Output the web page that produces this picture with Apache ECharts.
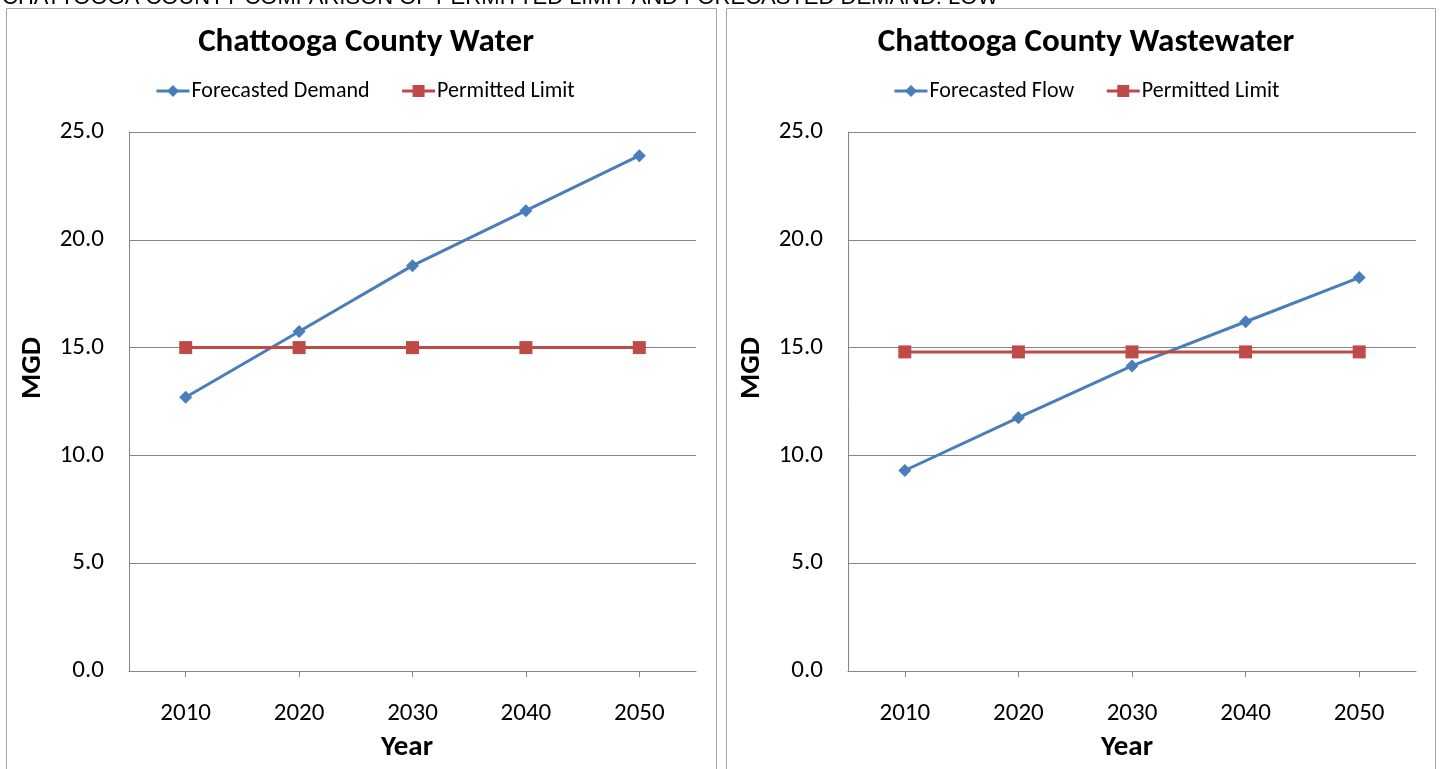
<!DOCTYPE html>
<html>
<head>
<meta charset="utf-8">
<script src="https://cdn.jsdelivr.net/npm/echarts@6/dist/echarts.min.js"></script>
<style>
  html, body { margin: 0; padding: 0; background: #fff; }
  #chart { width: 1442px; height: 769px; }
</style>
</head>
<body>
<div id="chart"></div>
<script>
const years = ["2010", "2020", "2030", "2040", "2050"];
const waterDemand = [12.7, 15.75, 18.8, 21.35, 23.9];
const waterLimit = [15.0, 15.0, 15.0, 15.0, 15.0];
const wastewaterFlow = [9.3, 11.75, 14.15, 16.2, 18.25];
const wastewaterLimit = [14.8, 14.8, 14.8, 14.8, 14.8];
const yTicks = [0, 5, 10, 15, 20, 25];

const FONT = "Carlito, Lato, 'Liberation Sans Narrow', sans-serif";
const BLUE = "#4A7EBB";
const RED = "#BE4B48";
const GRID = "#868686";

const chartDom = document.getElementById("chart");
const chart = echarts.init(chartDom, null, { renderer: "canvas" });

const xAxisFor = (idx) => ({
  type: "category",
  gridIndex: idx,
  data: years,
  boundaryGap: true,
  axisLine: { lineStyle: { color: GRID, width: 1 } },
  axisTick: { show: true, alignWithLabel: true, length: 6, lineStyle: { color: GRID } },
  axisLabel: { color: "#000", fontSize: 25, fontFamily: FONT, margin: 30 }
});

const yAxisFor = (idx) => ({
  type: "value",
  gridIndex: idx,
  min: yTicks[0],
  max: yTicks[yTicks.length - 1],
  interval: 5,
  axisLine: { show: true, lineStyle: { color: GRID, width: 1 } },
  axisTick: { show: false },
  splitLine: { lineStyle: { color: GRID, width: 1 } },
  axisLabel: {
    color: "#000", fontSize: 25, fontFamily: FONT, margin: 25,
    formatter: (v) => v.toFixed(1)
  }
});

const lineSeries = (name, data, idx, color, symbol, size) => ({
  name: name,
  type: "line",
  xAxisIndex: idx,
  yAxisIndex: idx,
  data: data,
  symbol: symbol,
  symbolSize: size,
  showSymbol: true,
  lineStyle: { color: color, width: 3 },
  itemStyle: { color: color },
  emphasis: { disabled: true },
  animation: false
});

const legendFor = (names, left) => ({
  data: names,
  left: left,
  top: 75,
  itemWidth: 33,
  itemHeight: 15,
  itemGap: 31,
  lineStyle: { width: 3 },
  textStyle: { color: "#000", fontSize: 22, fontFamily: FONT, padding: [0, 0, 0, -3] }
});

const option = {
  backgroundColor: "#fff",
  animation: false,
  title: [
    { text: "Chattooga County Water", left: 361, top: 21, textAlign: "center",
      textStyle: { fontSize: 33, fontWeight: "bold", fontFamily: FONT, color: "#000" } },
    { text: "Chattooga County Wastewater", left: 1081, top: 21, textAlign: "center",
      textStyle: { fontSize: 33, fontWeight: "bold", fontFamily: FONT, color: "#000" } }
  ],
  legend: [
    legendFor(["Forecasted Demand", "Permitted Limit"], 150),
    legendFor(["Forecasted Flow", "Permitted Limit"], 888)
  ],
  grid: [
    { left: 129, top: 132, width: 567, height: 539 },
    { left: 848, top: 132, width: 568, height: 539 }
  ],
  xAxis: [xAxisFor(0), xAxisFor(1)],
  yAxis: [yAxisFor(0), yAxisFor(1)],
  series: [
    lineSeries("Forecasted Demand", waterDemand, 0, BLUE, "diamond", 13),
    lineSeries("Permitted Limit", waterLimit, 0, RED, "rect", 13),
    lineSeries("Forecasted Flow", wastewaterFlow, 1, BLUE, "diamond", 13),
    lineSeries("Permitted Limit", wastewaterLimit, 1, RED, "rect", 13)
  ],
  graphic: [
    // panel borders
    { type: "rect", shape: { x: 6.5, y: 8.5, width: 710, height: 780 },
      style: { fill: null, stroke: "#A6A6A6", lineWidth: 1 }, z: -1 },
    { type: "rect", shape: { x: 726.5, y: 8.5, width: 709, height: 780 },
      style: { fill: null, stroke: "#A6A6A6", lineWidth: 1 }, z: -1 },
    // page caption, cut off at the top of the picture
    { type: "text", left: 2, top: -13,
      style: { text: "CHATTOOGA COUNTY COMPARISON OF PERMITTED LIMIT AND FORECASTED DEMAND: LOW",
        fontSize: 22, fontFamily: "'Liberation Sans', Arial, sans-serif", fill: "#000" } },
    // axis names
    { type: "text", x: 33, y: 368, rotation: Math.PI / 2,
      style: { text: "MGD", fontSize: 29, fontWeight: "bold", fontFamily: FONT, fill: "#000",
        align: "center", verticalAlign: "middle" } },
    { type: "text", x: 752, y: 368, rotation: Math.PI / 2,
      style: { text: "MGD", fontSize: 29, fontWeight: "bold", fontFamily: FONT, fill: "#000",
        align: "center", verticalAlign: "middle" } },
    { type: "text", x: 407, y: 748,
      style: { text: "Year", fontSize: 29, fontWeight: "bold", fontFamily: FONT, fill: "#000",
        align: "center", verticalAlign: "middle" } },
    { type: "text", x: 1127, y: 748,
      style: { text: "Year", fontSize: 29, fontWeight: "bold", fontFamily: FONT, fill: "#000",
        align: "center", verticalAlign: "middle" } }
  ]
};

chart.setOption(option);
window.addEventListener("resize", () => chart.resize());
</script>
</body>
</html>
